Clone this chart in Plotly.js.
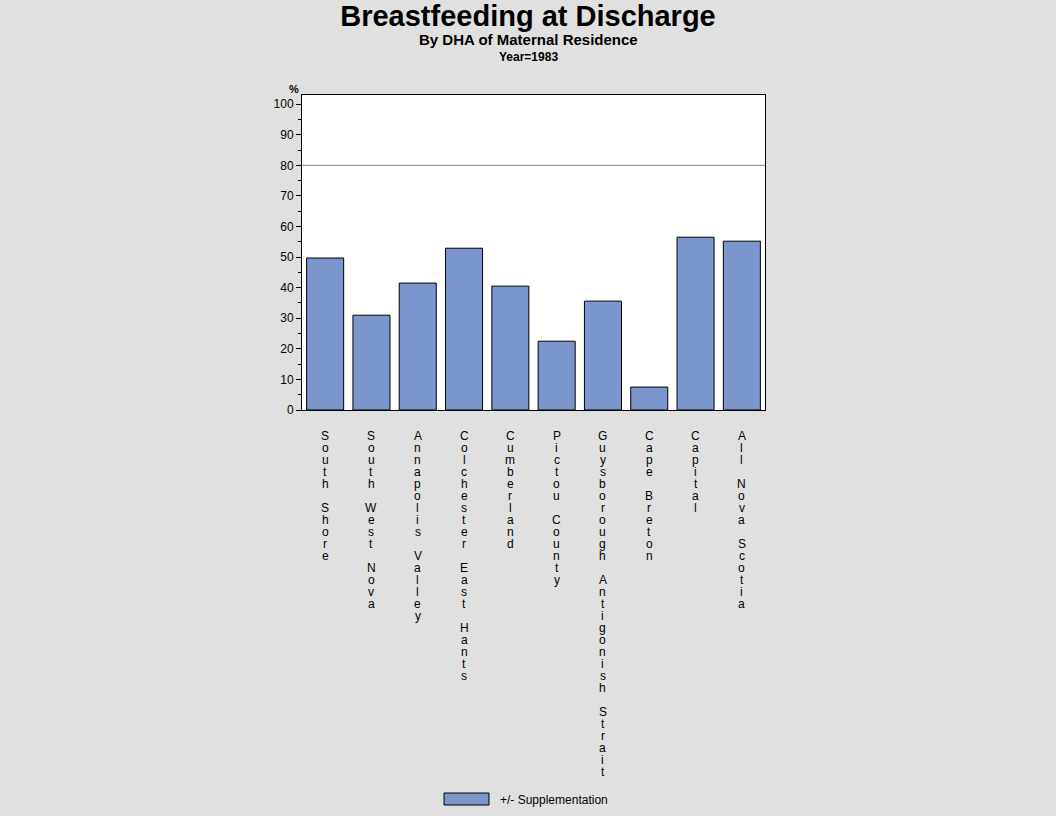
<!DOCTYPE html>
<html>
<head>
<meta charset="utf-8">
<script src="https://cdn.plot.ly/plotly-3.0.1.min.js"></script>
<style>
  body { margin: 0; background: #E0E0E0; }
  #myDiv { width: 1056px; height: 816px; }
</style>
</head>
<body>
<div id="myDiv"></div>
<script>
var districts = ['South Shore', 'South West Nova', 'Annapolis Valley', 'Colchester East Hants',
  'Cumberland', 'Pictou County', 'Guysborough Antigonish Strait', 'Cape Breton', 'Capital', 'All Nova Scotia'];
var pctBreastfed = [49.7, 31.0, 41.5, 52.9, 40.5, 22.5, 35.6, 7.5, 56.5, 55.2];
var seriesName = '+/- Supplementation';
var targetLine = 80;

var font = 'Liberation Sans, Arial, sans-serif';

var trace1 = {
  x: districts,
  y: pctBreastfed,
  name: seriesName,
  type: 'bar',
  marker: { color: '#7B96CD', line: { color: 'black', width: 1 } },
  hoverinfo: 'x+y'
};

// stacked one-letter-per-line labels under each bar
var annotations = [];
districts.forEach(function (d) {
  d.split('').forEach(function (ch, i) {
    if (ch === ' ') return;
    annotations.push({
      x: d, xref: 'x', y: 0, yref: 'paper',
      yshift: -26 - i * 12, yanchor: 'middle',
      text: ch, showarrow: false,
      font: { family: font, size: 12, color: 'black' }
    });
  });
});

var cx = (528 - 302) / 463; // page centre in plot-paper units

annotations.push(
  { x: cx, xref: 'paper', y: 1 + 55 / 315, yref: 'paper', yanchor: 'middle',
    text: '<b>By DHA of Maternal Residence</b>',
    showarrow: false, font: { family: font, size: 15, color: 'black' } },
  { x: cx, xref: 'paper', y: 1 + 38 / 315, yref: 'paper', yanchor: 'middle',
    text: '<b>Year=1983</b>',
    showarrow: false, font: { family: font, size: 12, color: 'black' } },
  { x: -15 / 463, xref: 'paper', y: 1 + 6 / 315, yref: 'paper', yanchor: 'middle',
    text: '<b>%</b>',
    showarrow: false, font: { family: font, size: 11, color: 'black' } },
  { x: 196 / 463, xref: 'paper', xanchor: 'left', y: -390 / 315, yref: 'paper', yanchor: 'middle',
    text: seriesName,
    showarrow: false, font: { family: font, size: 12, color: 'black' } }
);

var layout = {
  width: 1056,
  height: 816,
  paper_bgcolor: '#E0E0E0',
  plot_bgcolor: 'white',
  margin: { l: 302, r: 291, t: 95, b: 406 },
  showlegend: false,
  bargap: 0.2,
  title: {
    text: '<b>Breastfeeding at Discharge</b>',
    x: 0.5, xanchor: 'center', y: 1 - 16 / 816, yanchor: 'middle',
    font: { family: font, size: 29, color: 'black' }
  },
  xaxis: {
    range: [-0.5, 9.5],
    showticklabels: false,
    ticks: '',
    showline: true, linecolor: 'black', linewidth: 1, mirror: true,
    showgrid: false, zeroline: false
  },
  yaxis: {
    range: [0, 103],
    tickvals: [0, 10, 20, 30, 40, 50, 60, 70, 80, 90, 100],
    ticks: 'outside', ticklen: 5, tickcolor: 'black',
    minor: { tickvals: [5, 15, 25, 35, 45, 55, 65, 75, 85, 95], ticks: 'outside', ticklen: 3, tickcolor: 'black' },
    tickfont: { family: font, size: 12, color: 'black' },
    showline: true, linecolor: 'black', linewidth: 1, mirror: true,
    showgrid: false, zeroline: false
  },
  shapes: [
    { type: 'line', xref: 'paper', x0: 0, x1: 1, yref: 'y', y0: targetLine, y1: targetLine,
      line: { color: '#808080', width: 1 } },
    { type: 'rect', xref: 'paper', x0: 142 / 463, x1: 187 / 463, yref: 'paper', y0: -395 / 315, y1: -383 / 315,
      fillcolor: '#7B96CD', line: { color: 'black', width: 1 } }
  ],
  annotations: annotations
};

Plotly.newPlot('myDiv', [trace1], layout, { displayModeBar: false });
</script>
</body>
</html>
